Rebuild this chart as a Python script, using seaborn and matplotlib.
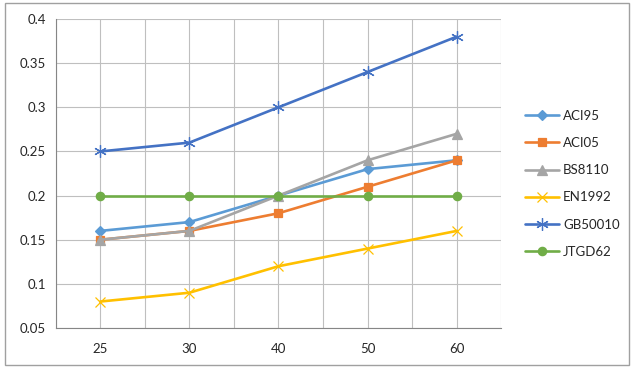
import matplotlib
matplotlib.use("Agg")
import matplotlib.pyplot as plt
from matplotlib.patches import Rectangle
import seaborn as sns
import numpy as np

# data
categories = ["25", "30", "40", "50", "60"]
aci95 = [0.16, 0.17, 0.20, 0.23, 0.24]
aci05 = [0.15, 0.16, 0.18, 0.21, 0.24]
bs8110 = [0.15, 0.16, 0.20, 0.24, 0.27]
en1992 = [0.08, 0.09, 0.12, 0.14, 0.16]
gb50010 = [0.25, 0.26, 0.30, 0.34, 0.38]
jtgd62 = [0.20, 0.20, 0.20, 0.20, 0.20]

series = [
    ("ACI95", aci95, "#5B9BD5", "D", 5),
    ("ACI05", aci05, "#ED7D31", "s", 6),
    ("BS8110", bs8110, "#A5A5A5", "^", 7),
    ("EN1992", en1992, "#FFC000", "x", 7),
    ("GB50010", gb50010, "#4472C4", (6, 2, 0), 9),
    ("JTGD62", jtgd62, "#70AD47", "o", 6),
]

sns.set_style("white")
plt.rcParams['font.family'] = ['Lato', 'DejaVu Sans']

fig = plt.figure(figsize=(6.35, 3.69), dpi=100)
ax = fig.add_axes([0.0877, 0.111, 0.7017, 0.8375])

x = np.arange(len(categories))
for name, vals, col, mk, ms in series:
    sns.lineplot(x=x, y=vals, ax=ax, color=col, marker=mk, markersize=ms,
                 markeredgecolor=col, markerfacecolor=col, markeredgewidth=0.9,
                 linewidth=1.9, label=name)

ax.set_xlim(-0.5, len(categories) - 0.5)
ax.set_ylim(0.05, 0.4)
ax.set_yticks(np.arange(0.05, 0.401, 0.05))
ax.set_yticklabels(["0.05", "0.1", "0.15", "0.2", "0.25", "0.3", "0.35", "0.4"])

# category labels at centres, tick marks at boundaries
ax.set_xticks(x)
ax.set_xticklabels(categories)
ax.set_xticks(np.arange(-0.5, len(categories), 1.0), minor=True)
ax.tick_params(axis='x', which='major', length=0, pad=11, labelsize=9.5)
ax.tick_params(axis='x', which='minor', length=5, color='#868686', width=0.8)
ax.tick_params(axis='y', length=4, color='#868686', width=0.8, pad=3, labelsize=9.5)

ax.grid(True, which='both', axis='x', color='#BFBFBF', linewidth=0.8)
ax.grid(True, which='major', axis='y', color='#BFBFBF', linewidth=0.8)
ax.set_axisbelow(True)

for s in ['top', 'right']:
    ax.spines[s].set_visible(False)
for s in ['left', 'bottom']:
    ax.spines[s].set_color('#868686')
    ax.spines[s].set_linewidth(0.8)

ax.legend(loc='center left', bbox_to_anchor=(0.808, 0.502), bbox_transform=fig.transFigure,
          frameon=False, fontsize=9.5, handlelength=2.6, labelspacing=1.15,
          handletextpad=0.3)

fig.add_artist(Rectangle((0.008, 0.012), 0.982, 0.98, transform=fig.transFigure,
                         fill=False, edgecolor='#A0A0A0', linewidth=1))

fig.savefig("out.png", dpi=100)
